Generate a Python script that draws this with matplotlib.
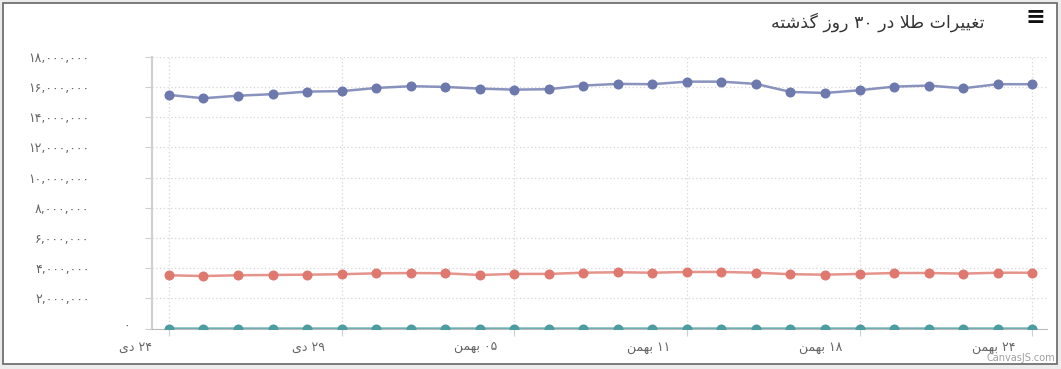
import re
import numpy as np
import matplotlib
matplotlib.use("Agg")
import matplotlib.pyplot as plt
from matplotlib.patches import Rectangle
from matplotlib.transforms import ScaledTranslation

# 30-day gold prices
dates = ["۲۴ دی", "۲۵ دی", "۲۶ دی", "۲۷ دی", "۲۸ دی", "۲۹ دی",
         "۳۰ دی", "۰۱ بهمن", "۰۲ بهمن", "۰۴ بهمن", "۰۵ بهمن",
         "۰۶ بهمن", "۰۷ بهمن", "۰۸ بهمن", "۰۹ بهمن", "۱۱ بهمن",
         "۱۳ بهمن", "۱۴ بهمن", "۱۵ بهمن", "۱۶ بهمن", "۱۸ بهمن",
         "۱۹ بهمن", "۲۰ بهمن", "۲۱ بهمن", "۲۳ بهمن", "۲۴ بهمن"]
coin = [15.47, 15.25, 15.42, 15.52, 15.69, 15.72, 15.93, 16.05, 16.00, 15.89,
        15.82, 15.85, 16.09, 16.20, 16.18, 16.35, 16.35, 16.20, 15.67, 15.60,
        15.78, 16.02, 16.09, 15.91, 16.18, 16.18]
gram18 = [3.53, 3.48, 3.53, 3.55, 3.57, 3.60, 3.66, 3.68, 3.66, 3.55,
          3.62, 3.62, 3.70, 3.73, 3.70, 3.75, 3.75, 3.70, 3.60, 3.57,
          3.62, 3.68, 3.68, 3.64, 3.70, 3.70]
ounce = [1850, 1840, 1845, 1855, 1860, 1855, 1865, 1870, 1860, 1850,
         1855, 1860, 1865, 1870, 1865, 1875, 1870, 1860, 1835, 1830,
         1840, 1850, 1855, 1845, 1860, 1860]
coin = [v * 1e6 for v in coin]
gram18 = [v * 1e6 for v in gram18]
colors = ["#6D78AD", "#DF7970", "#4C9CA0"]
title = "تغییرات طلا در ۳۰ روز گذشته"

# --- minimal Persian shaping (matplotlib has no bidi/shaping) ---
# char: (isolated, final, initial, medial); None -> does not join to the next letter
FORMS = {
    "ا": ("\uFE8D", "\uFE8E", None, None),
    "ب": ("\uFE8F", "\uFE90", "\uFE91", "\uFE92"),
    "ت": ("\uFE95", "\uFE96", "\uFE97", "\uFE98"),
    "د": ("\uFEA9", "\uFEAA", None, None),
    "ذ": ("\uFEAB", "\uFEAC", None, None),
    "ر": ("\uFEAD", "\uFEAE", None, None),
    "ز": ("\uFEAF", "\uFEB0", None, None),
    "ش": ("\uFEB5", "\uFEB6", "\uFEB7", "\uFEB8"),
    "ط": ("\uFEC1", "\uFEC2", "\uFEC3", "\uFEC4"),
    "غ": ("\uFECD", "\uFECE", "\uFECF", "\uFED0"),
    "ل": ("\uFEDD", "\uFEDE", "\uFEDF", "\uFEE0"),
    "م": ("\uFEE1", "\uFEE2", "\uFEE3", "\uFEE4"),
    "ن": ("\uFEE5", "\uFEE6", "\uFEE7", "\uFEE8"),
    "ه": ("\uFEE9", "\uFEEA", "\uFEEB", "\uFEEC"),
    "و": ("\uFEED", "\uFEEE", None, None),
    "ی": ("\uFBFC", "\uFBFD", "\uFBFE", "\uFBFF"),
    "گ": ("\uFB92", "\uFB93", "\uFB94", "\uFB95"),
}


def shape(word):
    out = []
    i = 0
    while i < len(word):
        c = word[i]
        if c not in FORMS:
            out.append(c)
            i += 1
            continue
        prev = word[i - 1] if i > 0 else ""
        jp = prev in FORMS and FORMS[prev][2] is not None
        if c == "ل" and i + 1 < len(word) and word[i + 1] == "ا":
            out.append("\uFEFC" if jp else "\uFEFB")
            i += 2
            continue
        nxt = word[i + 1] if i + 1 < len(word) else ""
        jn = nxt in FORMS and FORMS[c][2] is not None
        iso, fin, ini, med = FORMS[c]
        out.append(med if jp and jn else fin if jp else ini if jn else iso)
        i += 1
    return "".join(out)


def rtl(text):
    runs = re.findall(r"[۰-۹0-9,]+|[^۰-۹0-9,]+", text)
    vis = []
    for r in reversed(runs):
        vis.append(r if re.match(r"[۰-۹0-9]", r) else shape(r)[::-1])
    return "".join(vis)


def fa_num(v):
    return f"{int(v):,}".translate(str.maketrans("0123456789", "۰۱۲۳۴۵۶۷۸۹"))


fig = plt.figure(figsize=(10.61, 3.69), dpi=100)
fig.patch.set_facecolor("#ececec")
fig.patches.append(Rectangle((0.003, 0.0136), 0.9934, 0.9783, transform=fig.transFigure,
                             facecolor="white", edgecolor="#666666", lw=1.2, zorder=-1))
ax = fig.add_axes([0.1433, 0.1095, 0.8435, 0.7368])
ax.set_facecolor("white")

x = np.arange(len(dates))
for series, col in zip([coin, gram18, ounce], colors):
    ax.plot(x, series, color=col, lw=1.8, alpha=0.8, zorder=3)
    ax.plot(x, series, "o", color=col, ms=6.2, zorder=4)

ax.set_xlim(-0.49, 25.43)
ax.set_ylim(0, 18e6)
yt = np.arange(0, 18e6 + 1, 2e6)
ax.set_yticks(yt)
ax.set_yticklabels([fa_num(v) for v in yt])
ax.set_xticks(x[::5])
ax.set_xticklabels([rtl(d) for d in dates[::5]], ha="right")

ax.grid(True, color="#d6d6d6", linestyle=(0, (1, 2)), lw=0.9)
ax.set_axisbelow(True)
for s in ["top", "right"]:
    ax.spines[s].set_visible(False)
ax.spines["left"].set_color("#cfcfcf")
ax.spines["left"].set_linewidth(1.5)
ax.spines["bottom"].set_color("#bbbbbb")
ax.tick_params(axis="y", length=5, color="#cfcfcf", labelcolor="#666666",
               labelsize=9, pad=40)
ax.tick_params(axis="x", length=5, color="#cfcfcf", labelcolor="#666666",
               labelsize=9, pad=4)
for lbl in ax.get_xticklabels():
    lbl.set_transform(lbl.get_transform() + ScaledTranslation(-0.17, 0, fig.dpi_scale_trans))
ax.get_yticklabels()[0].set_transform(ax.get_yticklabels()[0].get_transform()
                                      + ScaledTranslation(0.40, 0.04, fig.dpi_scale_trans))

fig.text(0.928, 0.94, rtl(title), ha="right", va="center", fontsize=12.5, color="#333333")
fig.text(0.9755, 0.955, "≡", ha="center", va="center", fontsize=17, fontweight="bold", color="#111111")
fig.text(0.994, 0.03, "CanvasJS.com", ha="right", va="center", fontsize=7, color="#a0a0a0")

fig.savefig("out.png", dpi=100, facecolor=fig.get_facecolor())
